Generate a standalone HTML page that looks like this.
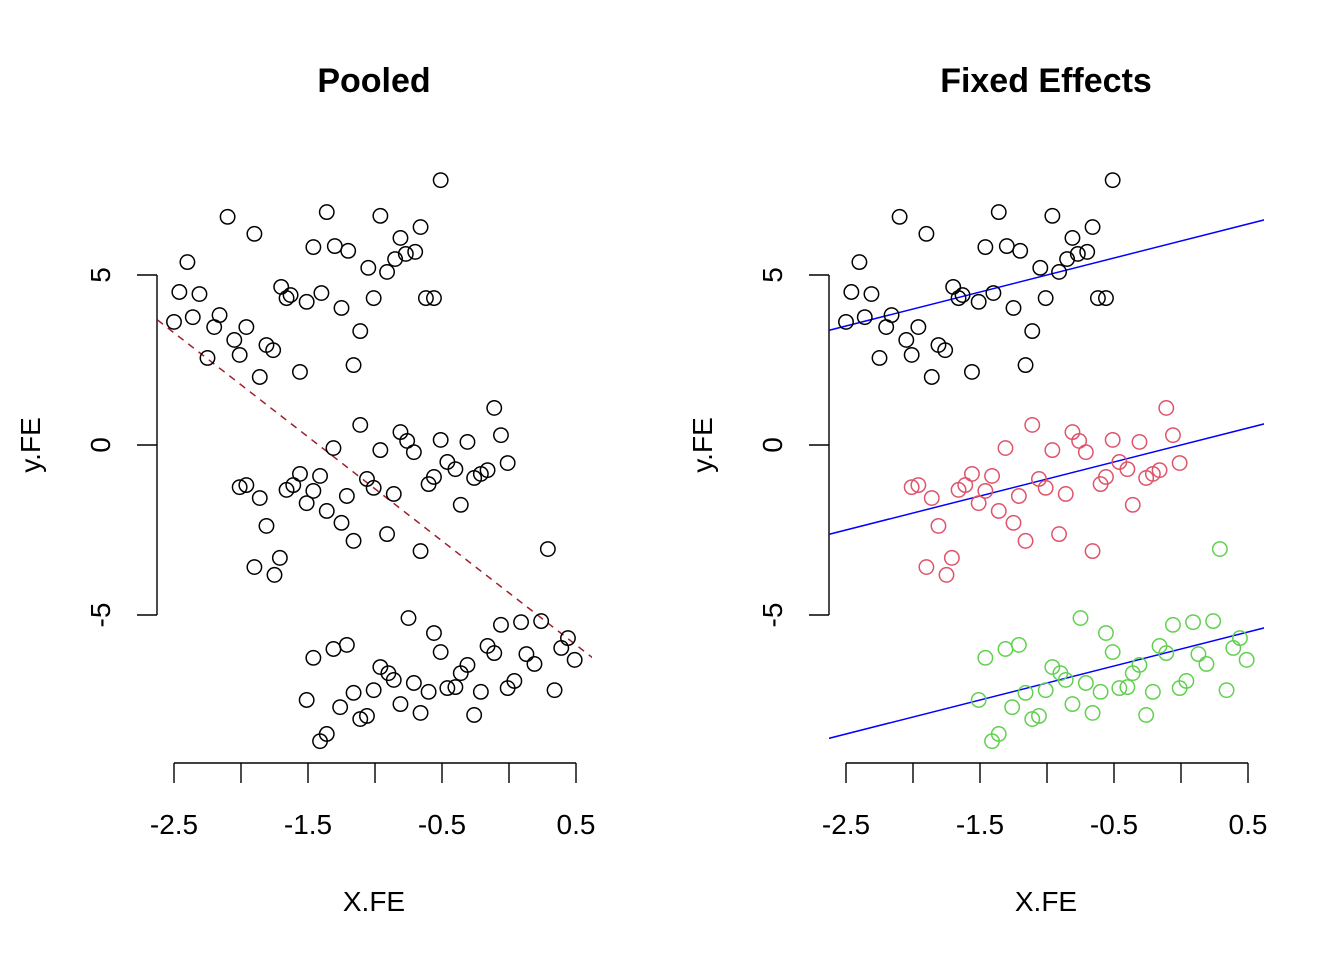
<!DOCTYPE html>
<html><head><meta charset="utf-8"><style>
html,body{margin:0;padding:0;background:#fff;}
svg{display:block;font-family:"Liberation Sans",Arial,sans-serif;}
</style></head><body>
<svg id="chart" width="1344" height="960" viewBox="0 0 1344 960" xmlns="http://www.w3.org/2000/svg"></svg>
<script>
const g1x=[-0.51,-2.10,-1.36,-0.96,-1.90,-0.66,-1.46,-1.30,-1.20,-0.81,-0.70,-0.77,-0.85,-2.40,-1.05,-0.91,-2.46,-2.31,-1.70,-1.63,-1.51,-1.40,-1.66,-1.01,-0.62,-0.56,-1.25,-2.50,-2.36,-2.16,-2.20,-1.96,-2.05,-1.81,-2.01,-1.76,-2.25,-1.11,-1.56,-1.16,-1.86];
const g1y=[7.79,6.71,6.85,6.74,6.21,6.41,5.82,5.85,5.71,6.09,5.68,5.62,5.47,5.38,5.21,5.09,4.50,4.44,4.65,4.41,4.21,4.47,4.32,4.32,4.32,4.32,4.03,3.62,3.76,3.82,3.47,3.47,3.09,2.94,2.65,2.79,2.56,3.35,2.15,2.35,2.00];
const g2x=[-0.11,-1.11,-0.06,-0.81,-0.76,-1.31,-0.96,-0.51,-0.31,-0.71,-0.46,-0.40,-0.01,-0.16,-0.21,-0.26,-0.56,-0.60,-1.56,-1.41,-1.61,-1.66,-1.96,-2.01,-1.06,-1.01,-0.86,-1.46,-1.51,-1.21,-1.36,-0.36,-1.25,-1.81,-0.91,-1.16,-0.66,-1.71,-1.90,-1.75,-1.86];
const g2y=[1.09,0.59,0.29,0.38,0.12,-0.09,-0.15,0.15,0.09,-0.21,-0.50,-0.71,-0.53,-0.74,-0.85,-0.97,-0.94,-1.15,-0.85,-0.91,-1.18,-1.32,-1.18,-1.24,-1.00,-1.26,-1.44,-1.35,-1.71,-1.50,-1.94,-1.76,-2.29,-2.38,-2.62,-2.82,-3.12,-3.32,-3.59,-3.82,-1.56];
const g3x=[0.29,-0.75,-0.56,-0.06,0.09,0.24,-1.31,-1.21,-0.51,-1.46,-0.16,-0.11,0.44,0.39,0.13,0.19,0.49,-0.96,-0.90,-0.31,-0.36,-0.86,-0.71,0.04,-0.01,-0.46,-0.40,-0.60,-1.01,-1.16,-0.21,0.34,-1.51,-0.81,-1.26,-0.66,-0.26,-1.06,-1.11,-1.36,-1.41];
const g3y=[-3.06,-5.09,-5.53,-5.29,-5.21,-5.18,-6.00,-5.88,-6.09,-6.26,-5.91,-6.12,-5.68,-5.97,-6.15,-6.44,-6.32,-6.53,-6.71,-6.47,-6.71,-6.91,-7.00,-6.94,-7.15,-7.15,-7.12,-7.26,-7.21,-7.29,-7.26,-7.21,-7.50,-7.62,-7.71,-7.88,-7.94,-7.97,-8.06,-8.50,-8.71];
const xTicks=[-2.5,-2,-1.5,-1,-0.5,0,0.5];
const xLabels=["-2.5","-1.5","-0.5","0.5"];
const yTicks=[-5,0,5];
const pooledCoef=[-4.35,-3.06];
const feIntercepts=[6,0,-6];
const feSlope=1;

const NS="http://www.w3.org/2000/svg";
const svg=document.getElementById('chart');
function mk(tag,attrs,parent){const e=document.createElementNS(NS,tag);for(const k in attrs)e.setAttribute(k,attrs[k]);(parent||svg).appendChild(e);return e;}

function panel(offset,title,colored,pid){
  const g=mk('g',{});
  
  
  const X=v=>174+offset+(v+2.5)*134;
  const Y=v=>445-v*34;
  const cp=mk('clipPath',{id:'clip'+pid},g);
  mk('rect',{x:157+offset,y:163,width:435,height:597},cp);
  const t=mk('text',{x:374+offset,y:92,'text-anchor':'middle','font-size':34,'font-weight':'bold'},g);t.textContent=title;
  
  
  // x axis
  const xa=mk('g',{stroke:'#000','stroke-width':1.4,fill:'none'},g);
  
  
  mk('line',{x1:X(xTicks[0]),x2:X(xTicks[xTicks.length-1]),y1:763,y2:763},xa);
  xTicks.forEach(v=>mk('line',{x1:X(v),x2:X(v),y1:763,y2:783},xa));
  xLabels.forEach(s=>{const e=mk('text',{x:X(parseFloat(s)),y:834,'text-anchor':'middle','font-size':28},g);e.textContent=s;
    
    });
  const xt=mk('text',{x:374+offset,y:911,'text-anchor':'middle','font-size':28},g);xt.textContent='X.FE';
  
  
  // y axis
  const ya=mk('g',{stroke:'#000','stroke-width':1.4,fill:'none'},g);
  
  
  mk('line',{x1:157+offset,x2:157+offset,y1:Y(yTicks[0]),y2:Y(yTicks[yTicks.length-1])},ya);
  yTicks.forEach(v=>{mk('line',{x1:137+offset,x2:157+offset,y1:Y(v),y2:Y(v)},ya);
    const e=mk('text',{x:0,y:0,'text-anchor':'middle','font-size':28,transform:`translate(${110+offset},${Y(v)}) rotate(-90)`},g);e.textContent=String(v);
    
    });
  const yt=mk('text',{x:0,y:0,'text-anchor':'middle','font-size':28,transform:`translate(${40+offset},445) rotate(-90)`},g);yt.textContent='y.FE';
  
  
  // lines
  const lg=mk('g',{'clip-path':`url(#clip${pid})`},g);
  const x0=-2.7,x1=0.7;
  if(!colored){
    const l=mk('line',{x1:X(x0),y1:Y(pooledCoef[0]+pooledCoef[1]*x0),x2:X(x1),y2:Y(pooledCoef[0]+pooledCoef[1]*x1),stroke:'#a0202a','stroke-width':1.5,'stroke-dasharray':'7,6'},lg);
    
    
  } else {
    feIntercepts.forEach(a=>{const l=mk('line',{x1:X(x0),y1:Y(a+feSlope*x0),x2:X(x1),y2:Y(a+feSlope*x1),stroke:'#0000ff','stroke-width':1.5},lg);
      
      });
  }
  // points
  const groups=[[g1x,g1y,'#000'],[g2x,g2y,colored?'#DF536B':'#000'],[g3x,g3y,colored?'#61D04F':'#000']];
  groups.forEach((gr,gi)=>{
    gr[0].forEach((xv,i)=>{
      const c=mk('circle',{cx:X(xv),cy:Y(gr[1][i]),r:7.2,fill:'none',stroke:gr[2],'stroke-width':1.5},g);
      
      
    });
  });
}
panel(0,'Pooled',false,'pooled');
panel(672,'Fixed Effects',true,'fixed');
</script>
</body></html>
